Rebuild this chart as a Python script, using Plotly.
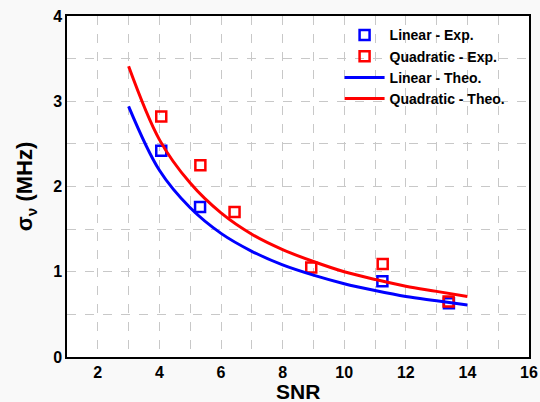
import plotly.graph_objects as go

# Measured points
lin_exp_snr = [4.06, 5.32, 11.24, 13.40]
lin_exp_sigma = [2.42, 1.76, 0.89, 0.63]
quad_exp_snr = [4.06, 5.33, 6.44, 8.93, 11.25, 13.39]
quad_exp_sigma = [2.82, 2.25, 1.70, 1.05, 1.09, 0.65]

# Theoretical curves
theo_snr = [3, 4, 5, 6, 7, 8, 9, 10, 11, 12, 13, 14]
lin_theo_sigma = [2.94, 2.19, 1.75, 1.45, 1.24, 1.08, 0.96, 0.86, 0.78, 0.71, 0.66, 0.61]
quad_theo_sigma = [3.41, 2.55, 2.04, 1.69, 1.44, 1.26, 1.12, 1.00, 0.91, 0.83, 0.77, 0.71]

BLUE = "#0000ff"
RED = "#ff0000"
FONT = "Liberation Sans, Arial, sans-serif"

fig = go.Figure()

fig.add_trace(go.Scatter(
    x=lin_exp_snr, y=lin_exp_sigma, mode="markers", name="Linear - Exp.",
    marker=dict(symbol="square-open", size=10, color=BLUE, line=dict(width=2.5, color=BLUE)),
))
fig.add_trace(go.Scatter(
    x=quad_exp_snr, y=quad_exp_sigma, mode="markers", name="Quadratic - Exp.",
    marker=dict(symbol="square-open", size=10, color=RED, line=dict(width=2.5, color=RED)),
))
fig.add_trace(go.Scatter(
    x=theo_snr, y=lin_theo_sigma, mode="lines", name="Linear - Theo.",
    line=dict(color=BLUE, width=3, shape="spline", smoothing=1.0),
))
fig.add_trace(go.Scatter(
    x=theo_snr, y=quad_theo_sigma, mode="lines", name="Quadratic - Theo.",
    line=dict(color=RED, width=3, shape="spline", smoothing=1.0),
))

grid_style = dict(showgrid=True, gridcolor="#c8c8c8", gridwidth=1, griddash="dash")

fig.update_layout(
    width=540, height=402,
    margin=dict(l=67, r=11, t=16, b=45),
    paper_bgcolor="#f9f9f9",
    plot_bgcolor="#ffffff",
    font=dict(family=FONT, color="#000000"),
    showlegend=True,
    legend=dict(
        x=0.59, y=0.99, xanchor="left", yanchor="top",
        bgcolor="rgba(0,0,0,0)", borderwidth=0,
        font=dict(family=FONT, size=14, weight="bold", color="#000000"),
        itemwidth=40, tracegroupgap=0,
    ),
    xaxis=dict(
        range=[1, 16], dtick=2, tick0=2, ticks="",
        showline=True, linecolor="#000000", linewidth=1.5, mirror=True,
        zeroline=False, automargin=False, ticklabelstandoff=0,
        tickfont=dict(family=FONT, size=16, weight="bold"),
        minor=dict(dtick=1, tick0=1, showgrid=True, gridcolor="#c8c8c8", griddash="dash", gridwidth=1),
        **grid_style,
    ),
    yaxis=dict(
        range=[0, 4], dtick=1, ticks="",
        showline=True, linecolor="#000000", linewidth=1.5, mirror=True,
        zeroline=False, automargin=False, ticklabelstandoff=0,
        tickfont=dict(family=FONT, size=16, weight="bold"),
        title=dict(text="σ<sub>ν</sub> (MHz)", font=dict(family=FONT, size=22, weight="bold"), standoff=14),
        minor=dict(dtick=0.5, showgrid=True, gridcolor="#c8c8c8", griddash="dash", gridwidth=1),
        **grid_style,
    ),
    annotations=[dict(
        text="SNR", xref="paper", yref="paper", x=0.5, y=-0.1,
        xanchor="center", yanchor="middle", showarrow=False,
        font=dict(family=FONT, size=21, weight="bold", color="#000000"),
    )],
)

fig.write_html("out.html")
